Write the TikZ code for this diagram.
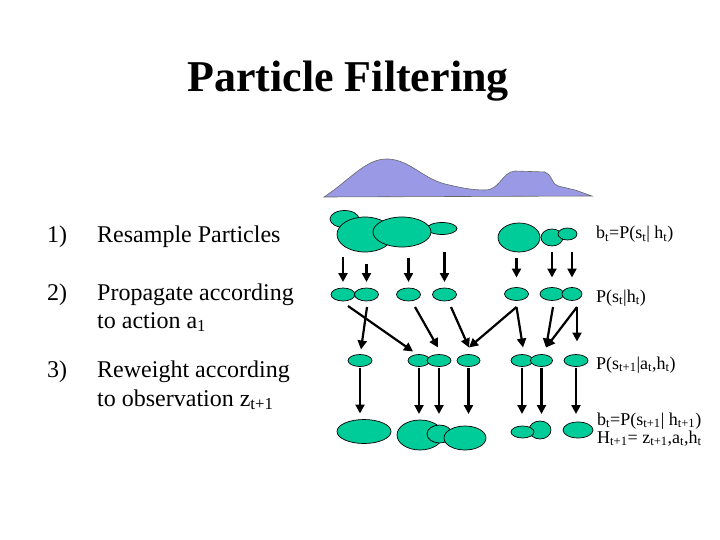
\documentclass[tikz,border=0pt]{standalone}
\usepackage{fontspec}
\setmainfont{Liberation Serif}
\usetikzlibrary{shapes.geometric, arrows.meta, calc}
\definecolor{particlegreen}{RGB}{0,204,153}
\definecolor{beliefblue}{RGB}{153,153,230}
\tikzstyle{particle} = [ellipse, draw=black, fill=particlegreen, line width=0.7pt, inner sep=0pt, outer sep=0pt]
\tikzstyle{arrow} = [line width=2.2pt, -{Triangle[length=9pt,width=9pt]}]
\tikzstyle{item} = [anchor=base west, inner sep=0pt, font=\fontsize{24}{28}\selectfont]
\tikzstyle{prob} = [anchor=base west, inner sep=0pt, font=\fontsize{18}{20}\selectfont]

\begin{document}
\begin{tikzpicture}[x=1pt, y=-1pt]
\useasboundingbox (0,0) rectangle (720,540);

% Title
\node (title) [anchor=base, font=\fontsize{44}{50}\selectfont\bfseries] at (348,92) {Particle Filtering};

% Steps
\node (num1) [item] at (47,243) {1)};
\node (step1) [item] at (97,243) {Resample Particles};
\node (num2) [item] at (47,300) {2)};
\node (step2a) [item] at (97,300) {Propagate according};
\node (step2b) [item] at (97,328) {to action a\textsubscript{1}};
\node (num3) [item] at (47,377) {3)};
\node (step3a) [item] at (97,377) {Reweight according};
\node (step3b) [item] at (97,406) {to observation z\textsubscript{t+1}};

% Belief
\draw [fill=beliefblue, draw=black!60, line width=0.6pt] (324,197)
  .. controls (350,180) and (366,158) .. (388,159)
  .. controls (410,160) and (422,178) .. (445,184)
  .. controls (462,188) and (472,190) .. (485,190)
  .. controls (500,190) and (502,172) .. (515,171)
  -- (545,172)
  .. controls (552,174) and (552,185) .. (558,186)
  -- (575,190) -- (592,196) -- cycle;

% Resampled particles
\node (r1a) [particle, minimum width=29pt, minimum height=17pt] at (344.5,219) {};
\node (r1d) [particle, minimum width=30pt, minimum height=12pt] at (442,228.5) {};
\node (r1b) [particle, minimum width=56pt, minimum height=35pt] at (365,234.5) {};
\node (r1c) [particle, minimum width=58pt, minimum height=30pt] at (402,232) {};
\node (r1e) [particle, minimum width=42pt, minimum height=29pt] at (519,237.5) {};
\node (r1f) [particle, minimum width=22pt, minimum height=17pt] at (552,237.5) {};
\node (r1g) [particle, minimum width=19pt, minimum height=12pt] at (567.5,234) {};

% Propagated particles
\node (e1) [particle, minimum width=24pt, minimum height=13pt] at (343,294.5) {};
\node (e2) [particle, minimum width=24pt, minimum height=13pt] at (366.5,294.5) {};
\node (e3) [particle, minimum width=24pt, minimum height=13pt] at (408.5,294.5) {};
\node (e4) [particle, minimum width=24pt, minimum height=13pt] at (444.5,294.5) {};
\node (e5) [particle, minimum width=24pt, minimum height=13pt] at (516.5,294) {};
\node (e6) [particle, minimum width=24pt, minimum height=13pt] at (552,294) {};
\node (e7) [particle, minimum width=20pt, minimum height=13pt] at (572,294) {};

% Moved particles
\node (f1) [particle, minimum width=24pt, minimum height=12pt] at (360,360.5) {};
\node (f2) [particle, minimum width=22pt, minimum height=12pt] at (419,360.5) {};
\node (f3) [particle, minimum width=24pt, minimum height=12pt] at (439,360.5) {};
\node (f4) [particle, minimum width=23pt, minimum height=12pt] at (468.5,360.5) {};
\node (f5) [particle, minimum width=22pt, minimum height=12pt] at (522,360.5) {};
\node (f6) [particle, minimum width=22pt, minimum height=12pt] at (541.5,360.5) {};
\node (f7) [particle, minimum width=24pt, minimum height=12pt] at (576,360.5) {};

% Reweighted particles
\node (g1) [particle, minimum width=54pt, minimum height=24pt] at (364,431.5) {};
\node (g2) [particle, minimum width=46pt, minimum height=30pt] at (420,435) {};
\node (g3) [particle, minimum width=25pt, minimum height=18pt] at (439.5,434) {};
\node (g4) [particle, minimum width=42pt, minimum height=24pt] at (465,438) {};
\node (g6) [particle, minimum width=22pt, minimum height=18pt] at (540,430) {};
\node (g5) [particle, minimum width=23pt, minimum height=12pt] at (522.5,432) {};
\node (g7) [particle, minimum width=30pt, minimum height=16pt] at (578,430) {};

% Arrows: resample -> propagate
\draw [arrow, shorten <=5pt, shorten >=6pt] (r1b.south -| e1.north) -- (e1.north);
\draw [arrow, shorten <=12pt, shorten >=6pt] (r1b.south -| e2.north) -- (e2.north);
\draw [arrow, shorten <=11pt, shorten >=6pt] (r1c.south -| e3.north) -- (e3.north);
\draw [arrow, shorten <=5pt, shorten >=6pt] (r1c.south -| e4.north) -- (e4.north);
\draw [arrow, shorten <=6pt, shorten >=10pt] (r1e.south -| e5.north) -- (e5.north);
\draw [arrow, shorten <=6pt, shorten >=10pt] (r1f.south -| e6.north) -- (e6.north);
\draw [arrow, shorten <=6pt, shorten >=10pt] (r1f.south -| e7.north) -- (e7.north);

% Arrows: propagate -> move
\draw [arrow] ($(e1.south)+(5,5)$) -- ($(f2.north)+(-6,-3)$);
\draw [arrow] ($(e2.south)+(0.5,6)$) -- ($(f1.north)+(1,-5)$);
\draw [arrow] ($(e3.south)+(6.5,6)$) -- ($(f3.north)+(-1,-7)$);
\draw [arrow] ($(e4.south)+(6.5,6)$) -- ($(f4.north)+(0.5,-7)$);
\draw [arrow] ($(e5.south)+(0,6.5)$) -- ($(f4.north)+(0.5,-7)$);
\draw [arrow] ($(e5.south)+(0,6.5)$) -- ($(f5.north)+(1,-7)$);
\draw [arrow] ($(e6.south)+(1,6.5)$) -- ($(f6.north)+(4.5,-7)$);
\draw [arrow] ($(e7.south)+(5,6.5)$) -- ($(f6.north)+(4.5,-7)$);
\draw [arrow] ($(e7.south)+(5,6.5)$) -- ($(f7.north)+(1,-13)$);

% Arrows: move -> reweight
\draw [arrow, shorten <=1pt, shorten >=6pt] (f1.south) -- (f1.south |- g1.north);
\draw [arrow, shorten <=1pt, shorten >=6pt] (f2.south) -- (f2.south |- g2.north);
\draw [arrow, shorten <=1pt, shorten >=11pt] (f3.south) -- (f3.south |- g3.north);
\draw [arrow, shorten <=1pt, shorten >=12pt] (f4.south) -- (f4.south |- g4.north);
\draw [arrow, shorten <=1pt, shorten >=12pt] (f5.south) -- (f5.south |- g5.north);
\draw [arrow, shorten <=1pt, shorten >=7pt] (f6.south) -- (f6.south |- g6.north);
\draw [arrow, shorten <=1pt, shorten >=8pt] (f7.south) -- (f7.south |- g7.north);

% Labels
\node (lab1) [prob] at (596,239) {b\textsubscript{t}=P(s\textsubscript{t}| h\textsubscript{t})};
\node (lab2) [prob] at (596,302) {P(s\textsubscript{t}|h\textsubscript{t})};
\node (lab3) [prob] at (596,369) {P(s\textsubscript{t+1}|a\textsubscript{t},h\textsubscript{t})};
\node (lab4) [prob] at (597,425) {b\textsubscript{t}=P(s\textsubscript{t+1}| h\textsubscript{t+1})};
\node (lab5) [prob] at (597,443) {H\textsubscript{t+1}= z\textsubscript{t+1},a\textsubscript{t},h\textsubscript{t}};

\end{tikzpicture}
\end{document}
